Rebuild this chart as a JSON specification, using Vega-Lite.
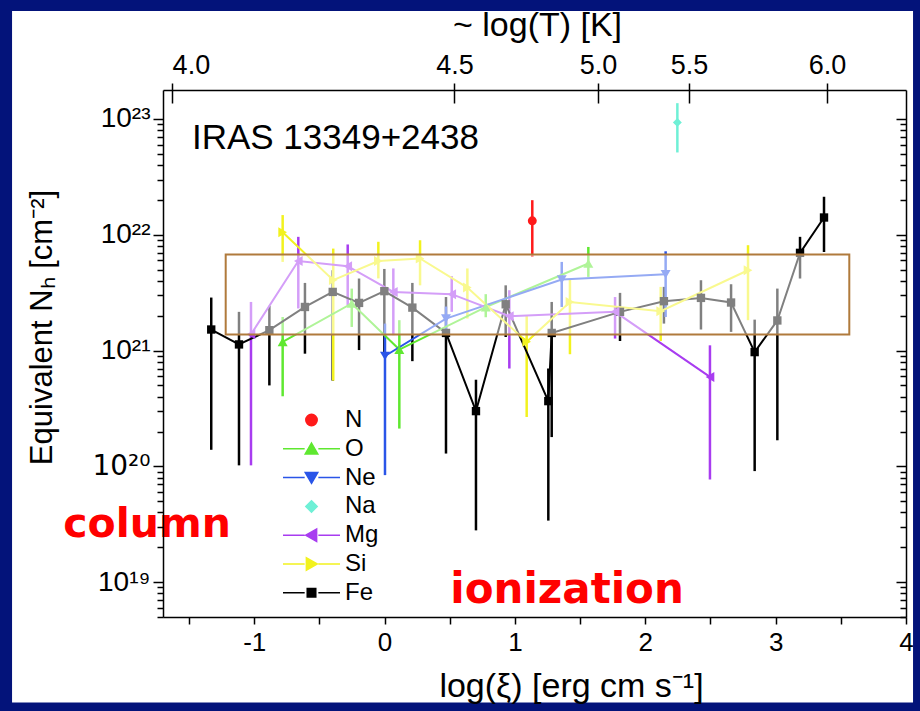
{
  "$schema": "https://vega.github.io/schema/vega-lite/v6.json",
  "width": 743,
  "height": 527,
  "autosize": {"type": "none"},
  "padding": {"left": 163, "top": 90, "right": 14, "bottom": 94},
  "background": "#03137a",
  "config": {
    "view": {"stroke": null},
    "font": "Liberation Sans",
    "axis": {"grid": false, "zindex": 1, "domainColor": "#000000", "tickColor": "#000000", "labelColor": "#000000", "titleColor": "#000000", "domainWidth": 1.5, "tickWidth": 1.5, "labelFont": "Liberation Sans", "titleFont": "Liberation Sans", "titleFontWeight": "normal"}
  },
  "datasets": {
    "panel": [{"x_from": -2.858, "x_to": 4.054, "n_from": 9.12e17, "n_to": 8.57e23}],
    "box": [{"x1": -1.219, "x2": 3.565, "y1": 1.374e21, "y2": 6.76e21}],
    "notes": [
      {"label": "IRAS 13349+2438", "xi": -1.478, "nh": 6.84e22},
      {"label": "column", "xi": -1.822, "nh": 3.09e19},
      {"label": "ionization", "xi": 1.40, "nh": 8.5e18}
    ],
    "pts": [
      {"el": "Fe", "xi": -1.330, "nh": 1.52e21, "lo": 1.39e20, "hi": 2.87e21},
      {"el": "Fe", "xi": -1.117, "nh": 1.13e21, "lo": 1.02e20, "hi": 2.16e21},
      {"el": "Fe", "xi": -0.884, "nh": 1.50e21, "lo": 5.0e20, "hi": 2.43e21},
      {"el": "Fe", "xi": -0.611, "nh": 2.38e21, "lo": 9.4e20, "hi": 3.84e21},
      {"el": "Fe", "xi": -0.398, "nh": 3.21e21, "lo": 5.5e20, "hi": 4.94e21},
      {"el": "Fe", "xi": -0.196, "nh": 2.58e21, "lo": 1.01e21, "hi": 4.19e21},
      {"el": "Fe", "xi": -0.002, "nh": 3.26e21, "lo": 9.7e20, "hi": 5.07e21},
      {"el": "Fe", "xi": 0.213, "nh": 2.35e21, "lo": 8.1e20, "hi": 3.84e21},
      {"el": "Fe", "xi": 0.471, "nh": 1.42e21, "lo": 1.29e20, "hi": 2.9e21},
      {"el": "Fe", "xi": 0.701, "nh": 3.0e20, "lo": 2.8e19, "hi": 5.6e20},
      {"el": "Fe", "xi": 0.929, "nh": 2.51e21, "lo": 1.31e21, "hi": 3.66e21},
      {"el": "Fe", "xi": 1.256, "nh": 3.66e20, "lo": 3.4e19, "hi": 7.0e20},
      {"el": "Fe", "xi": 1.282, "nh": 1.42e21, "lo": 1.79e20, "hi": 2.63e21},
      {"el": "Fe", "xi": 1.806, "nh": 2.16e21, "lo": 1.21e21, "hi": 3.15e21},
      {"el": "Fe", "xi": 2.143, "nh": 2.67e21, "lo": 1.71e21, "hi": 3.55e21},
      {"el": "Fe", "xi": 2.427, "nh": 2.85e21, "lo": 1.52e21, "hi": 4.05e21},
      {"el": "Fe", "xi": 2.658, "nh": 2.60e21, "lo": 1.45e21, "hi": 3.74e21},
      {"el": "Fe", "xi": 2.839, "nh": 9.7e20, "lo": 9.1e19, "hi": 1.85e21},
      {"el": "Fe", "xi": 3.013, "nh": 1.82e21, "lo": 1.68e20, "hi": 3.43e21},
      {"el": "Fe", "xi": 3.187, "nh": 6.98e21, "lo": 4.19e21, "hi": 9.6e21},
      {"el": "Fe", "xi": 3.371, "nh": 1.41e22, "lo": 7.1e21, "hi": 2.13e22},
      {"el": "N", "xi": 1.133, "nh": 1.32e22, "lo": 6.44e21, "hi": 1.99e22},
      {"el": "Na", "xi": 2.246, "nh": 9.35e22, "lo": 5.14e22, "hi": 1.37e23},
      {"el": "O", "xi": -0.782, "nh": 1.19e21, "lo": 4.03e20, "hi": 1.95e21},
      {"el": "O", "xi": -0.252, "nh": 2.55e21, "lo": 1.6e21, "hi": 3.43e21},
      {"el": "O", "xi": 0.113, "nh": 1.02e21, "lo": 2.12e20, "hi": 1.83e21},
      {"el": "O", "xi": 0.776, "nh": 2.37e21, "lo": 1.94e21, "hi": 3.07e21},
      {"el": "O", "xi": 1.563, "nh": 5.65e21, "lo": 4.33e21, "hi": 7.85e21},
      {"el": "Ne", "xi": 0.003, "nh": 8.98e20, "lo": 8.4e19, "hi": 1.71e21},
      {"el": "Ne", "xi": 0.471, "nh": 1.89e21, "lo": 1.45e21, "hi": 2.4e21},
      {"el": "Ne", "xi": 1.359, "nh": 4.11e21, "lo": 2.38e21, "hi": 5.83e21},
      {"el": "Ne", "xi": 2.156, "nh": 4.56e21, "lo": 1.95e21, "hi": 7.2e21},
      {"el": "Mg", "xi": -1.025, "nh": 1.38e21, "lo": 1.02e20, "hi": 2.63e21},
      {"el": "Mg", "xi": -0.662, "nh": 5.94e21, "lo": 2.31e21, "hi": 9.6e21},
      {"el": "Mg", "xi": -0.283, "nh": 5.36e21, "lo": 2.47e21, "hi": 8.25e21},
      {"el": "Mg", "xi": 0.067, "nh": 3.21e21, "lo": 1.36e21, "hi": 5.12e21},
      {"el": "Mg", "xi": 0.515, "nh": 3.07e21, "lo": 2.16e21, "hi": 4.39e21},
      {"el": "Mg", "xi": 0.957, "nh": 1.98e21, "lo": 7.0e20, "hi": 3.32e21},
      {"el": "Mg", "xi": 1.768, "nh": 2.16e21, "lo": 1.27e21, "hi": 2.9e21},
      {"el": "Mg", "xi": 2.496, "nh": 5.92e20, "lo": 7.7e19, "hi": 1.11e21},
      {"el": "Si", "xi": -0.782, "nh": 1.05e22, "lo": 5.83e21, "hi": 1.48e22},
      {"el": "Si", "xi": -0.394, "nh": 4.06e21, "lo": 5.5e20, "hi": 7.6e21},
      {"el": "Si", "xi": -0.048, "nh": 5.94e21, "lo": 4.2e21, "hi": 8.7e21},
      {"el": "Si", "xi": 0.272, "nh": 6.24e21, "lo": 3.66e21, "hi": 8.97e21},
      {"el": "Si", "xi": 0.635, "nh": 3.50e21, "lo": 1.89e21, "hi": 5.12e21},
      {"el": "Si", "xi": 1.090, "nh": 1.19e21, "lo": 2.67e20, "hi": 2.02e21},
      {"el": "Si", "xi": 1.422, "nh": 2.63e21, "lo": 9.3e20, "hi": 4.19e21},
      {"el": "Si", "xi": 2.118, "nh": 2.19e21, "lo": 1.21e21, "hi": 3.55e21},
      {"el": "Si", "xi": 2.788, "nh": 4.94e21, "lo": 1.83e21, "hi": 8.13e21}
    ]
  },
  "resolve": {"axis": {"x": "independent", "y": "independent"}},
  "layer": [
    {
      "data": {"name": "pts"},
      "mark": {"type": "point", "filled": false, "opacity": 1, "fillOpacity": 1, "strokeOpacity": 1, "strokeWidth": 1.5},
      "encoding": {
        "x": {"field": "xi", "type": "quantitative", "scale": {"domain": [-1.7, 4], "nice": false, "zero": false}, "axis": null},
        "y": {"field": "nh", "type": "quantitative", "scale": {"type": "log", "domain": [5e18, 1.78e23], "nice": false}, "axis": null},
        "color": {"field": "el", "type": "nominal", "sort": null,
          "scale": {"domain": ["N", "O", "Ne", "Na", "Mg", "Si", "Fe"], "range": ["#ff1a1a", "#5fe830", "#2a55e8", "#6ff0d6", "#a83cf0", "#f2f21e", "#000000"]},
          "legend": {"orient": "none", "legendX": 119, "legendY": 320, "title": null, "padding": 0, "labelFontSize": 24, "labelFont": "Liberation Sans", "labelColor": "#000000", "labelOffset": 4, "clipHeight": 20, "rowPadding": 4.8, "symbolSize": 3249, "symbolStrokeWidth": 1.5, "symbolOpacity": 1}},
        "fill": {"field": "el", "type": "nominal", "sort": null,
          "scale": {"domain": ["N", "O", "Ne", "Na", "Mg", "Si", "Fe"], "range": ["#ff1a1a", "#5fe830", "#2a55e8", "#6ff0d6", "#a83cf0", "#f2f21e", "#000000"]},
          "legend": {"orient": "none", "legendX": 119, "legendY": 320, "title": null, "padding": 0, "labelFontSize": 24, "labelFont": "Liberation Sans", "labelColor": "#000000", "labelOffset": 4, "clipHeight": 20, "rowPadding": 4.8, "symbolSize": 3249, "symbolStrokeWidth": 1.5, "symbolOpacity": 1}},
        "shape": {"field": "el", "type": "nominal", "sort": null,
          "scale": {"domain": ["N", "O", "Ne", "Na", "Mg", "Si", "Fe"], "range": [
            "M0.2,0A0.2,0.2,0,1,1,-0.2,0A0.2,0.2,0,1,1,0.2,0Z",
            "M-1,0H-0.24M0.24,0H1M0,-0.2L0.22,0.18L-0.22,0.18Z",
            "M-1,0H-0.24M0.24,0H1M0,0.2L0.22,-0.18L-0.22,-0.18Z",
            "M0,-0.2L0.2,0L0,0.2L-0.2,0Z",
            "M-1,0H-0.24M0.24,0H1M-0.2,0L0.18,-0.22L0.18,0.22Z",
            "M-1,0H-0.24M0.24,0H1M0.2,0L-0.18,-0.22L-0.18,0.22Z",
            "M-1,0H-0.24M0.24,0H1M-0.15,-0.15H0.15V0.15H-0.15Z"]},
          "legend": {"orient": "none", "legendX": 119, "legendY": 320, "title": null, "padding": 0, "labelFontSize": 24, "labelFont": "Liberation Sans", "labelColor": "#000000", "labelOffset": 4, "clipHeight": 20, "rowPadding": 4.8, "symbolSize": 3249, "symbolStrokeWidth": 1.5, "symbolOpacity": 1}}
      }
    },
    {
      "data": {"name": "panel"},
      "mark": {"type": "rect", "fill": "#ffffff"},
      "encoding": {
        "x": {"field": "x_from", "type": "quantitative", "axis": null},
        "x2": {"field": "x_to"},
        "y": {"field": "n_from", "type": "quantitative", "axis": null},
        "y2": {"field": "n_to"}
      }
    },
    {
      "data": {"name": "pts"},
      "mark": {"type": "rule", "strokeWidth": 2.5},
      "encoding": {
        "x": {"field": "xi", "type": "quantitative", "axis": {"zindex": 1, "orient": "bottom", "values": [-1.5, -1, -0.5, 0, 0.5, 1, 1.5, 2, 2.5, 3, 3.5, 4], "labelExpr": "datum.value % 1 == 0 ? '' + datum.value : ''", "labelOverlap": false, "labelFlush": false, "title": "log(ξ) [erg cm s⁻¹]", "tickSize": 7, "labelFontSize": 26, "labelPadding": 5, "titleFontSize": 34, "titleX": 408, "titleY": 69, "titleBaseline": "middle", "titleAlign": "center"}},
        "y": {"field": "lo", "type": "quantitative", "axis": {"zindex": 1, "orient": "left", "values": [1e19, 1e20, 1e21, 1e22, 1e23], "labelExpr": "'10' + (datum.value < 5e19 ? '¹⁹' : datum.value < 5e20 ? '²⁰' : datum.value < 5e21 ? '²¹' : datum.value < 5e22 ? '²²' : '²³')", "labelFont": {"condition": {"test": "datum.value > 5e19 && datum.value < 5e20", "value": "DejaVu Sans"}, "value": "Liberation Sans"}, "labelFontSize": 28, "labelPadding": 3, "tickSize": 10, "title": "Equivalent  Nₕ  [cm⁻²]", "titleFontSize": 31, "titleAngle": -90, "titleX": -121, "titleY": 237, "titleBaseline": "middle", "titleAlign": "center"}},
        "y2": {"field": "hi"},
        "color": {"field": "el", "type": "nominal"}
      }
    },
    {
      "data": {"name": "pts"},
      "mark": {"type": "line", "strokeWidth": 2},
      "encoding": {
        "x": {"field": "xi", "type": "quantitative", "axis": {"zindex": 1, "orient": "top", "values": [-1.63, 0.536, 1.637, 2.335, 3.394], "labelExpr": "datum.value < -1 ? '4.0' : datum.value < 1 ? '4.5' : datum.value < 2 ? '5.0' : datum.value < 3 ? '5.5' : '6.0'", "labelAlign": {"condition": {"test": "datum.value < -1", "value": "left"}, "value": "center"}, "labelFlush": false, "labelOverlap": false, "labelFontSize": 27, "labelPadding": 4, "tickSize": 7, "title": "~ log(T) [K]", "titleFontSize": 34, "titleX": 374, "titleY": -65, "titleBaseline": "middle", "titleAlign": "center"}},
        "y": {"field": "nh", "type": "quantitative", "axis": {"zindex": 1, "orient": "left", "values": [5e18, 6e18, 7e18, 8e18, 9e18, 2e19, 3e19, 4e19, 5e19, 6e19, 7e19, 8e19, 9e19, 2e20, 3e20, 4e20, 5e20, 6e20, 7e20, 8e20, 9e20, 2e21, 3e21, 4e21, 5e21, 6e21, 7e21, 8e21, 9e21, 2e22, 3e22, 4e22, 5e22, 6e22, 7e22, 8e22, 9e22], "labels": false, "domain": false, "tickSize": 6, "title": null}},
        "color": {"field": "el", "type": "nominal"}
      }
    },
    {
      "data": {"name": "pts"},
      "transform": [{"filter": "datum.el == 'Fe'"}],
      "mark": {"type": "point", "filled": true, "opacity": 1, "size": 70, "shape": "square"},
      "encoding": {
        "x": {"field": "xi", "type": "quantitative", "axis": {"zindex": 1, "orient": "top", "values": [-1.63, 0.536, 1.637, 2.335, 3.394], "labels": false, "domain": false, "tickSize": -13, "title": null}},
        "y": {"field": "nh", "type": "quantitative", "axis": {"zindex": 1, "orient": "right", "values": [1e19, 1e20, 1e21, 1e22, 1e23], "labels": false, "tickSize": -10, "title": null}},
        "color": {"field": "el", "type": "nominal"}
      }
    },
    {
      "data": {"name": "pts"},
      "transform": [{"filter": "datum.el == 'N'"}],
      "mark": {"type": "point", "filled": true, "opacity": 1, "size": 80, "shape": "circle"},
      "encoding": {
        "x": {"field": "xi", "type": "quantitative", "axis": null},
        "y": {"field": "nh", "type": "quantitative", "axis": null},
        "color": {"field": "el", "type": "nominal"}
      }
    },
    {
      "data": {"name": "pts"},
      "transform": [{"filter": "datum.el == 'Na'"}],
      "mark": {"type": "point", "filled": true, "opacity": 1, "size": 80, "shape": "diamond"},
      "encoding": {
        "x": {"field": "xi", "type": "quantitative", "axis": null},
        "y": {"field": "nh", "type": "quantitative", "axis": null},
        "color": {"field": "el", "type": "nominal"}
      }
    },
    {
      "data": {"name": "pts"},
      "transform": [{"filter": "datum.el == 'O'"}],
      "mark": {"type": "point", "filled": true, "opacity": 1, "size": 100, "shape": "triangle-up"},
      "encoding": {
        "x": {"field": "xi", "type": "quantitative", "axis": null},
        "y": {"field": "nh", "type": "quantitative", "axis": null},
        "color": {"field": "el", "type": "nominal"}
      }
    },
    {
      "data": {"name": "pts"},
      "transform": [{"filter": "datum.el == 'Ne'"}],
      "mark": {"type": "point", "filled": true, "opacity": 1, "size": 100, "shape": "triangle-down"},
      "encoding": {
        "x": {"field": "xi", "type": "quantitative", "axis": null},
        "y": {"field": "nh", "type": "quantitative", "axis": null},
        "color": {"field": "el", "type": "nominal"}
      }
    },
    {
      "data": {"name": "pts"},
      "transform": [{"filter": "datum.el == 'Mg'"}],
      "mark": {"type": "point", "filled": true, "opacity": 1, "size": 100, "shape": "triangle-left"},
      "encoding": {
        "x": {"field": "xi", "type": "quantitative", "axis": null},
        "y": {"field": "nh", "type": "quantitative", "axis": null},
        "color": {"field": "el", "type": "nominal"}
      }
    },
    {
      "data": {"name": "pts"},
      "transform": [{"filter": "datum.el == 'Si'"}],
      "mark": {"type": "point", "filled": true, "opacity": 1, "size": 100, "shape": "triangle-right"},
      "encoding": {
        "x": {"field": "xi", "type": "quantitative", "axis": null},
        "y": {"field": "nh", "type": "quantitative", "axis": null},
        "color": {"field": "el", "type": "nominal"}
      }
    },
    {
      "data": {"name": "box"},
      "mark": {"type": "rect", "fill": "#ffffff", "fillOpacity": 0.5, "stroke": "#b07a3c", "strokeWidth": 2},
      "encoding": {
        "x": {"field": "x1", "type": "quantitative", "axis": null},
        "x2": {"field": "x2"},
        "y": {"field": "y1", "type": "quantitative", "axis": {"zindex": 1, "orient": "right", "values": [5e18, 6e18, 7e18, 8e18, 9e18, 2e19, 3e19, 4e19, 5e19, 6e19, 7e19, 8e19, 9e19, 2e20, 3e20, 4e20, 5e20, 6e20, 7e20, 8e20, 9e20, 2e21, 3e21, 4e21, 5e21, 6e21, 7e21, 8e21, 9e21, 2e22, 3e22, 4e22, 5e22, 6e22, 7e22, 8e22, 9e22], "labels": false, "domain": false, "tickSize": -6, "title": null}},
        "y2": {"field": "y2"}
      }
    },
    {
      "data": {"name": "notes"},
      "transform": [{"filter": "datum.label == 'IRAS 13349+2438'"}],
      "mark": {"type": "text", "align": "left", "baseline": "middle", "fontSize": 35, "font": "Liberation Sans", "color": "#000000"},
      "encoding": {
        "x": {"field": "xi", "type": "quantitative", "axis": null},
        "y": {"field": "nh", "type": "quantitative", "axis": null},
        "text": {"field": "label"}
      }
    },
    {
      "data": {"name": "notes"},
      "transform": [{"filter": "datum.label == 'column'"}],
      "mark": {"type": "text", "align": "center", "baseline": "middle", "fontSize": 41, "font": "DejaVu Sans", "fontWeight": "bold", "color": "#ff0000"},
      "encoding": {
        "x": {"field": "xi", "type": "quantitative", "axis": null},
        "y": {"field": "nh", "type": "quantitative", "axis": null},
        "text": {"field": "label"}
      }
    },
    {
      "data": {"name": "notes"},
      "transform": [{"filter": "datum.label == 'ionization'"}],
      "mark": {"type": "text", "align": "center", "baseline": "middle", "fontSize": 42, "font": "DejaVu Sans", "fontWeight": "bold", "color": "#ff0000"},
      "encoding": {
        "x": {"field": "xi", "type": "quantitative", "axis": null},
        "y": {"field": "nh", "type": "quantitative", "axis": null},
        "text": {"field": "label"}
      }
    }
  ]
}
